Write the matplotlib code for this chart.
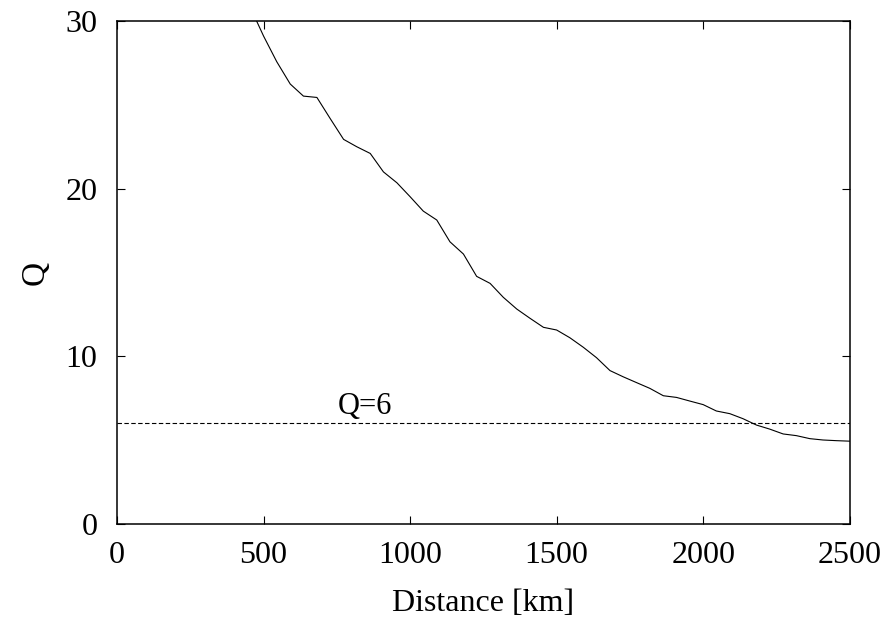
import matplotlib
matplotlib.use("Agg")
import matplotlib.pyplot as plt

# Q versus epicentral distance
distance = [455, 500, 545, 591, 636, 682, 727, 773, 818, 864, 909, 955, 1000,
            1045, 1091, 1136, 1182, 1227, 1273, 1318, 1364, 1409, 1455, 1500,
            1545, 1591, 1636, 1682, 1727, 1773, 1818, 1864, 1909, 1955, 2000,
            2045, 2091, 2136, 2182, 2227, 2273, 2318, 2364, 2409, 2455, 2500]
q_values = [30.8, 29.1, 27.57, 26.24, 25.52, 25.44, 24.19, 22.94, 22.5, 22.1,
            21.0, 20.35, 19.52, 18.66, 18.13, 16.83, 16.1, 14.77, 14.35, 13.52,
            12.82, 12.27, 11.73, 11.57, 11.11, 10.54, 9.92, 9.15, 8.78, 8.43,
            8.09, 7.65, 7.55, 7.33, 7.12, 6.74, 6.58, 6.28, 5.9, 5.66, 5.37,
            5.27, 5.09, 5.01, 4.97, 4.94]
q_threshold = 6
x_ticks = [0, 500, 1000, 1500, 2000, 2500]
y_ticks = [0, 10, 20, 30]

plt.rcParams['font.family'] = ['Liberation Serif', 'DejaVu Serif']

fig = plt.figure(figsize=(8.84, 6.21), dpi=100)
ax = fig.add_axes([0.1324, 0.1562, 0.8288, 0.81])

# curve and threshold line
ax.plot(distance, q_values, color='black', linewidth=0.8)
ax.axhline(q_threshold, color='black', linewidth=0.8, linestyle=(0, (4, 2.2)))
ax.text(845, 6.55, 'Q=%d' % q_threshold, fontsize=22,
        ha='center', va='baseline')

ax.set_xlim(0, 2500)
ax.set_ylim(0, 30)
ax.set_xticks(x_ticks)
ax.set_yticks(y_ticks)
ax.tick_params(direction='in', length=6, width=0.8, top=True, right=True,
               labelsize=23)
ax.tick_params(axis='x', pad=12)
ax.tick_params(axis='y', pad=14)
for side in ['top', 'right', 'bottom', 'left']:
    ax.spines[side].set_linewidth(1.1)

ax.set_xlabel('Distance [km]', fontsize=23)
ax.set_ylabel('Q', fontsize=24)
ax.xaxis.set_label_coords(0.5, -0.129)
ax.yaxis.set_label_coords(-0.09, 0.5)

fig.savefig('out.png', dpi=100)
